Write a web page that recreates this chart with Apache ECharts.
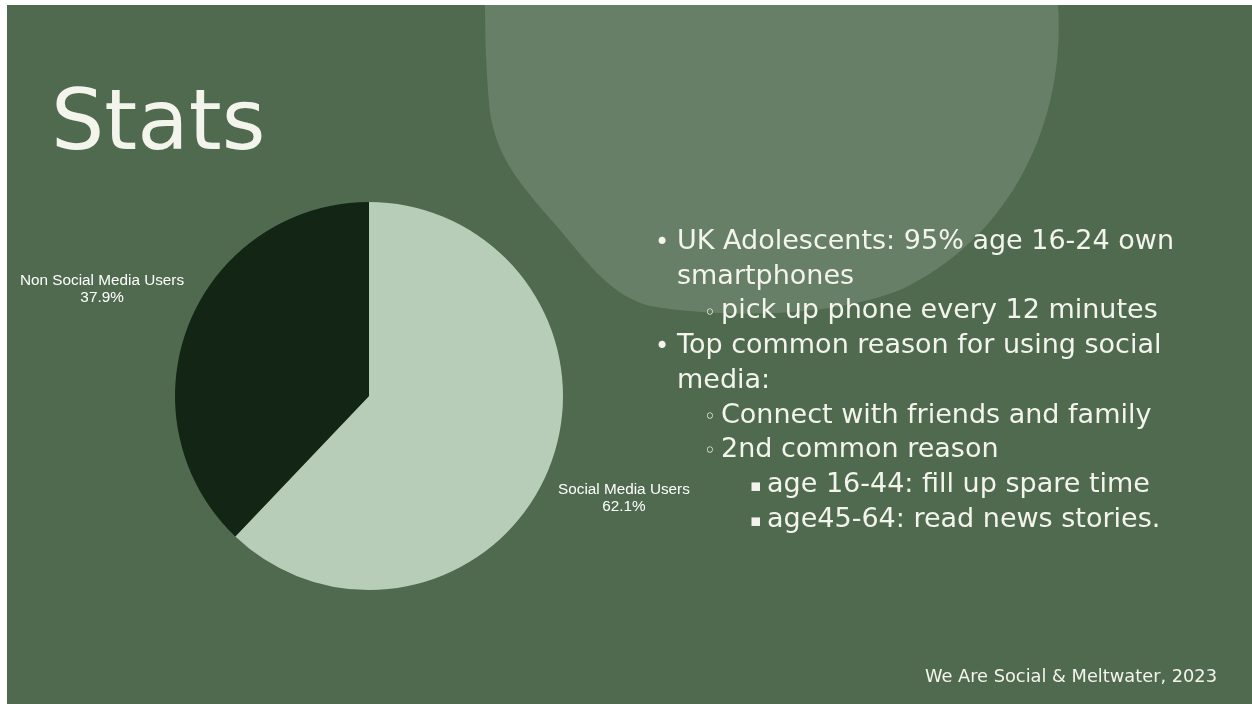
<!DOCTYPE html>
<html>
<head>
<meta charset="utf-8">
<script src="https://cdn.jsdelivr.net/npm/echarts@6/dist/echarts.min.js"></script>
<style>
html,body{margin:0;padding:0;background:#ffffff;}
#chart{width:1252px;height:704px;}
</style>
</head>
<body>
<div id="chart"></div>
<script>
// ---- data ----
const categories = ['Social Media Users', 'Non Social Media Users'];
const values = [62.1, 37.9];
const titleText = 'Stats';
const sourceText = 'We Are Social & Meltwater, 2023';
const bulletTexts = [
  'UK Adolescents: 95% age 16-24 own',
  'smartphones',
  'pick up phone every 12 minutes',
  'Top common reason for using social',
  'media:',
  'Connect with friends and family',
  '2nd common reason',
  'age 16-44: fill up spare time',
  'age45-64: read news stories.'
];
const bulletLevels = [0, -1, 1, 0, -1, 1, 1, 2, 2]; // -1 = continuation of level 0

// ---- styles ----
const BG = '#506a4f';
const BLOB = '#667f66';
const TXT = '#f3f4ec';
const sliceColors = ['#b7cdb7', '#132515'];

const BlobShape = echarts.graphic.extendPath(
  'M 485 5 L 1058 5 C 1066 120 1012 238 900 290 C 830 318 720 318 650 306 C 612 296 590 266 560 230 C 522 186 497 160 490 112 C 486 72 485 32 485 5 Z', {});
echarts.graphic.registerShape('blobShape', BlobShape);

const chart = echarts.init(document.getElementById('chart'), null, {renderer: 'canvas'});

const pieData = categories.map((c, i) => ({name: c, value: values[i], itemStyle: {color: sliceColors[i]}}));
const labelData = categories.map((c, i) => ({name: c, value: values[i]}));

const textFont = '"DejaVu Sans", sans-serif';
const graphics = [
  {type: 'rect', z: -10, shape: {x: 7, y: 5, width: 1245, height: 699}, style: {fill: BG}, silent: true},
  {type: 'blobShape', z: -9, silent: true, style: {fill: BLOB}},
  {type: 'text', x: 51, y: 127, style: {text: titleText, fill: TXT, font: 'normal 84px ' + textFont, align: 'left', verticalAlign: 'middle'}},
  {type: 'text', x: 1217, y: 677, style: {text: sourceText, fill: TXT, font: 'normal 17.8px ' + textFont, align: 'right', verticalAlign: 'middle'}}
];

const baseY = 242, lineGap = 34.7;
const textX = [677, 721, 767];
const bulletX = [655, 704, 750];
const bulletChars = ['\u2022', '\u25E6', '\u25AA'];
const bulletSizes = [24, 20, 17];
bulletTexts.forEach((t, i) => {
  const lv = bulletLevels[i];
  const level = lv < 0 ? 0 : lv;
  const y = baseY + i * lineGap;
  graphics.push({type: 'text', x: textX[level], y: y,
    style: {text: t, fill: TXT, font: 'normal 27px ' + textFont, align: 'left', verticalAlign: 'middle'}});
  if (lv >= 0) {
    graphics.push({type: 'text', x: bulletX[lv], y: y + 2,
      style: {text: bulletChars[lv], fill: TXT, font: 'normal ' + bulletSizes[lv] + 'px ' + textFont, align: 'left', verticalAlign: 'middle'}});
  }
});

const option = {
  backgroundColor: '#ffffff',
  animation: false,
  graphic: {elements: graphics},
  series: [
    {
      type: 'pie',
      center: [369, 396],
      radius: [0, 194],
      startAngle: 90,
      clockwise: true,
      silent: true,
      label: {show: false},
      labelLine: {show: false},
      itemStyle: {borderWidth: 0},
      emphasis: {disabled: true},
      data: pieData
    },
    {
      type: 'pie',
      center: [363, 394],
      radius: [256, 300],
      startAngle: 90,
      clockwise: true,
      silent: true,
      itemStyle: {color: 'rgba(0,0,0,0)', borderWidth: 0},
      emphasis: {disabled: true},
      labelLine: {show: false},
      label: {
        show: true,
        position: 'inside',
        formatter: '{b}\n{c}%',
        color: '#ffffff',
        fontFamily: '"Liberation Sans", Arial, sans-serif',
        fontSize: 15.3,
        lineHeight: 17,
        align: 'center'
      },
      data: labelData
    }
  ]
};
chart.setOption(option);
</script>
</body>
</html>
